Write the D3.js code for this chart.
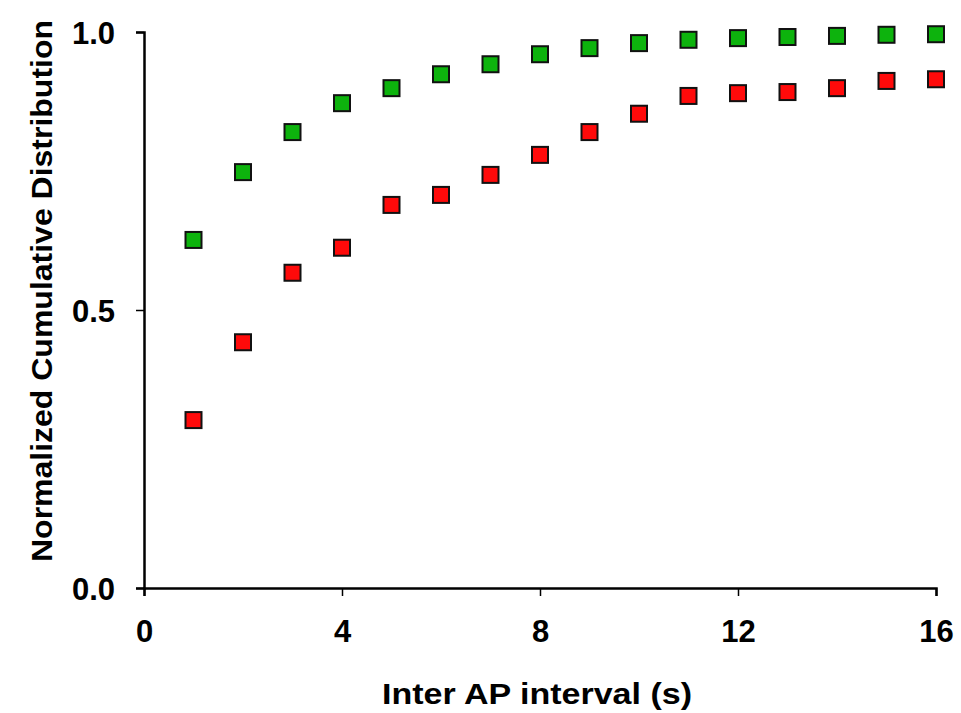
<!DOCTYPE html>
<html>
<head>
<meta charset="utf-8">
<script src="https://cdn.jsdelivr.net/npm/d3@7"></script>
<style>
  body { margin: 0; background: #fff; }
  text { font-family: "Liberation Sans", Arial, sans-serif; font-weight: bold; }
</style>
</head>
<body>
<svg id="chart"></svg>
<script>
// data
const intervals = [1, 2, 3, 4, 5, 6, 7, 8, 9, 10, 11, 12, 13, 14, 15, 16];
const greenValues = [0.626, 0.748, 0.820, 0.872, 0.899, 0.924, 0.942, 0.960, 0.971, 0.980, 0.986, 0.989, 0.991, 0.993, 0.995, 0.996];
const redValues = [0.302, 0.442, 0.567, 0.612, 0.689, 0.707, 0.743, 0.779, 0.820, 0.853, 0.885, 0.890, 0.892, 0.899, 0.912, 0.915];
const xTicks = [0, 4, 8, 12, 16];
const yTicks = [0, 0.5, 1.0];

const width = 961;
const height = 713;
const margin = { top: 32, right: 25, bottom: 125, left: 144 };

const svg = d3.select("#chart").attr("width", width).attr("height", height);

const x = d3.scaleLinear().domain([0, 16]).range([margin.left, width - margin.right]);
const y = d3.scaleLinear().domain([0, 1]).range([height - margin.bottom, margin.top]);

// axes
const xAxis = svg.append("g")
  .attr("transform", `translate(0, ${y(0)})`)
  .call(d3.axisBottom(x).tickValues(xTicks).tickSize(8).tickPadding(24).tickFormat(d3.format("d")));

const yAxis = svg.append("g")
  .attr("transform", `translate(${x(0)}, 0)`)
  .call(d3.axisLeft(y).tickValues(yTicks).tickSize(8).tickPadding(21).tickFormat(d3.format(".1f")));

[xAxis, yAxis].forEach(g => {
  g.select(".domain").attr("stroke", "#000").attr("stroke-width", 2.5);
  g.selectAll(".tick line").attr("stroke", "#000").attr("stroke-width", 1.5);
  g.selectAll(".tick text").attr("fill", "#000").attr("font-size", 31);
});
xAxis.selectAll(".tick text").attr("dy", "0.71em");
yAxis.selectAll(".tick text").attr("dy", "0.36em");

// markers
const size = 16;
function drawSeries(vals, color) {
  svg.append("g")
    .selectAll("rect")
    .data(intervals.map((d, i) => ({ x: d, y: vals[i] })))
    .join("rect")
    .attr("x", d => x(d.x) - size / 2)
    .attr("y", d => y(d.y) - size / 2)
    .attr("width", size)
    .attr("height", size)
    .attr("fill", color)
    .attr("stroke", "#111")
    .attr("stroke-width", 2);
}
drawSeries(greenValues, "#0db30d");
drawSeries(redValues, "#ff0a0a");

// axis titles
svg.append("text")
  .attr("x", 537)
  .attr("y", 704)
  .attr("text-anchor", "middle")
  .attr("font-size", 29)
  .attr("textLength", 310)
  .attr("lengthAdjust", "spacingAndGlyphs")
  .text("Inter AP interval (s)");

svg.append("text")
  .attr("transform", `translate(52, 291) rotate(-90)`)
  .attr("text-anchor", "middle")
  .attr("font-size", 29)
  .attr("textLength", 542)
  .attr("lengthAdjust", "spacingAndGlyphs")
  .text("Normalized Cumulative Distribution");
</script>
</body>
</html>
